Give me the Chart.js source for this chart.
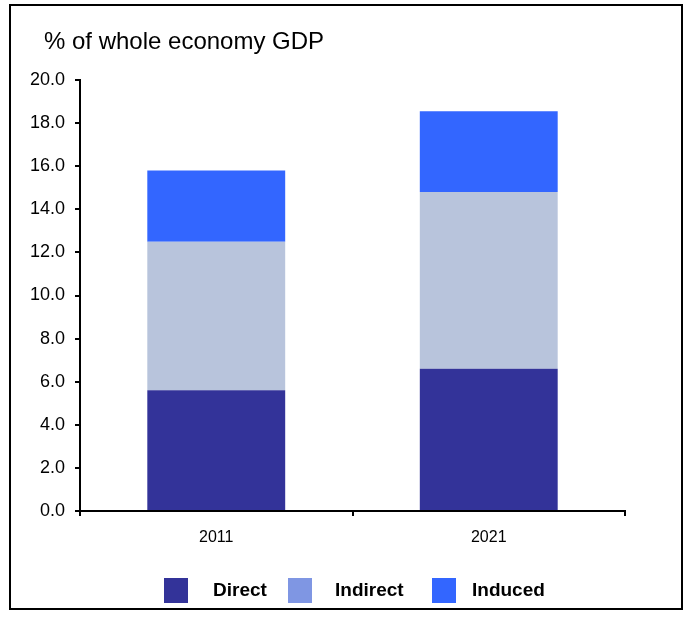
<!DOCTYPE html>
<html>
<head>
<meta charset="utf-8">
<script src="https://cdn.jsdelivr.net/npm/chart.js@4"></script>
<style>
  html, body { margin: 0; padding: 0; background: #fff; }
  #wrap { position: relative; width: 692px; height: 617px; }
  #frame {
    position: absolute; left: 9px; top: 4px; width: 674px; height: 606px;
    border: 2px solid #000; box-sizing: border-box; pointer-events: none;
  }
  canvas { position: absolute; left: 0; top: 0; }
</style>
</head>
<body>
<div id="wrap">
  <canvas id="chart" width="692" height="617"></canvas>
  <div id="frame"></div>
</div>
<script>
// Chart data
const years = ['2011', '2021'];
const direct = [5.6, 6.6];
const indirect = [6.9, 8.2];
const induced = [3.3, 3.75];
const yTicks = [0, 2, 4, 6, 8, 10, 12, 14, 16, 18, 20];

const FONT = '"Liberation Sans", Arial, sans-serif';

// Draws the title text in the top-left corner
const titlePlugin = {
    id: 'cornerTitle',
    afterDraw(chart) {
        const ctx = chart.ctx;
        ctx.save();
        ctx.fillStyle = '#000';
        ctx.font = '24px ' + FONT;
        ctx.textBaseline = 'alphabetic';
        ctx.fillText('% of whole economy GDP', 44, 49);
        ctx.restore();
    }
};

// Legend with square swatches; colours come from each dataset's legendColor
const legendPlugin = {
    id: 'squareLegend',
    afterDraw(chart) {
        const ctx = chart.ctx;
        const boxes = [164, 288, 432];
        const texts = [213, 335, 472];
        ctx.save();
        ctx.font = 'bold 19px ' + FONT;
        ctx.textBaseline = 'middle';
        chart.data.datasets.forEach((ds, i) => {
            ctx.fillStyle = ds.legendColor;
            ctx.fillRect(boxes[i], 578, 24, 25);
            ctx.fillStyle = '#000';
            ctx.fillText(ds.label, texts[i], 591);
        });
        ctx.restore();
    }
};

const ctx = document.getElementById('chart').getContext('2d');
new Chart(ctx, {
    type: 'bar',
    data: {
        labels: years,
        datasets: [
            { label: 'Direct', data: direct, backgroundColor: '#333399', legendColor: '#333399' },
            { label: 'Indirect', data: indirect, backgroundColor: '#b8c4dc', legendColor: '#7f96e3' },
            { label: 'Induced', data: induced, backgroundColor: '#3366ff', legendColor: '#3366ff' }
        ]
    },
    options: {
        responsive: false,
        animation: false,
        barPercentage: 0.506,
        categoryPercentage: 1,
        layout: { padding: { left: 0, right: 67, top: 80, bottom: 66 } },
        plugins: {
            legend: { display: false },
            tooltip: { enabled: false }
        },
        scales: {
            x: {
                stacked: true,
                afterFit(scale) { scale.height = 40; },
                border: { display: true, color: '#000', width: 2 },
                grid: {
                    drawOnChartArea: false, drawTicks: true, tickLength: 5,
                    color: '#000', lineWidth: 2
                },
                ticks: { color: '#000', font: { family: FONT, size: 16 }, padding: 12 }
            },
            y: {
                stacked: true,
                min: 0,
                max: 20,
                afterFit(scale) { scale.width = 80; },
                afterBuildTicks(scale) { scale.ticks = yTicks.map(v => ({ value: v })); },
                border: { display: true, color: '#000', width: 2 },
                grid: {
                    drawOnChartArea: false, drawTicks: true, tickLength: 5,
                    color: '#000', lineWidth: 2
                },
                ticks: {
                    color: '#000', font: { family: FONT, size: 18 }, padding: 10,
                    callback: v => Number(v).toFixed(1)
                }
            }
        }
    },
    plugins: [titlePlugin, legendPlugin]
});
</script>
</body>
</html>
